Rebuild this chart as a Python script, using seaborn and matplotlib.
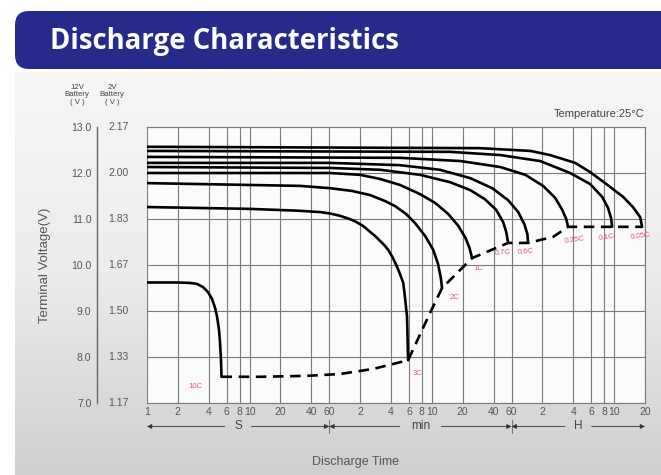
import numpy as np
import pandas as pd
import seaborn as sns
import matplotlib.pyplot as plt
from matplotlib.patches import FancyBboxPatch
from matplotlib.colors import LinearSegmentedColormap
import matplotlib.transforms as mtransforms

# discharge curves: time (s) and terminal voltage of the 12V battery
rates = ["10C", "3C", "2C", "1C", "0.7C", "0.6C", "0.25C", "0.1C", "0.05C"]

t_10c = [1, 2, 2.63, 3.07, 3.52, 3.94, 4.31, 4.61, 4.83, 5.04, 5.16, 5.27, 5.33]
v_10c = [9.62, 9.62, 9.61, 9.59, 9.52, 9.41, 9.26, 9.07, 8.87, 8.59, 8.30, 7.93, 7.57]
t_3c = [1, 10, 30, 49, 61, 76, 92, 107, 128, 150, 170, 188, 207, 225, 248, 270, 294,
        316, 330, 344, 352]
v_3c = [11.26, 11.22, 11.18, 11.15, 11.12, 11.07, 11.01, 10.95, 10.85, 10.72, 10.62,
        10.52, 10.43, 10.33, 10.17, 10.0, 9.8, 9.61, 9.25, 8.87, 7.93]
t_2c = [1, 10, 31, 61, 100, 150, 210, 263, 336, 412, 517, 619, 690, 734, 755]
v_2c = [11.78, 11.74, 11.72, 11.67, 11.61, 11.52, 11.39, 11.28, 11.11, 10.91, 10.63,
        10.33, 10.02, 9.72, 9.50]
t_1c = [1, 61, 120, 188, 294, 461, 646, 866, 1088, 1277, 1398, 1482]
v_1c = [12.0, 12.0, 11.96, 11.87, 11.74, 11.54, 11.35, 11.11, 10.85, 10.59, 10.37, 10.15]
t_07c = [1, 61, 188, 461, 904, 1416, 1977, 2543, 2980, 3190, 3326]
v_07c = [12.13, 12.11, 12.07, 11.96, 11.80, 11.63, 11.43, 11.20, 10.93, 10.72, 10.48]
t_06c = [1, 61, 294, 719, 1416, 2328, 3326, 4180, 4790, 5130, 5210]
v_06c = [12.22, 12.22, 12.17, 12.07, 11.89, 11.67, 11.41, 11.15, 10.89, 10.67, 10.48]
t_025c = [1, 294, 1140, 2788, 4897, 7300, 9570, 11210, 12270, 12800]
v_025c = [12.35, 12.33, 12.26, 12.13, 11.96, 11.72, 11.46, 11.20, 11.0, 10.83]
t_01c = [1, 904, 2788, 6826, 13380, 20990, 27540, 31400, 33600, 34400]
v_01c = [12.48, 12.46, 12.39, 12.26, 12.0, 11.76, 11.48, 11.24, 11.02, 10.83]
t_005c = [1, 1774, 5490, 8547, 15000, 20990, 29400, 44100, 54900, 64600, 67500]
v_005c = [12.57, 12.54, 12.48, 12.39, 12.22, 12.02, 11.78, 11.48, 11.26, 11.04, 10.83]

# end-of-discharge line (dashed)
t_cut = [5.33, 12.7, 36, 76, 160, 352, 577, 755, 1482, 3326, 5210, 9130, 12800, 34400, 67500]
v_cut = [7.57, 7.57, 7.59, 7.63, 7.74, 7.93, 8.96, 9.50, 10.15, 10.48, 10.48, 10.61, 10.83, 10.83, 10.83]

# rate labels along the dashed line
label_t = [2.94, 432, 1007, 1690, 2930, 4900, 15000, 30500, 65000]
label_v = [7.35, 7.65, 9.30, 9.93, 10.26, 10.28, 10.54, 10.59, 10.63]
label_rot = [0, 0, 0, 0, 5, 5, 8, 8, 8]

# axes ticks
v12_ticks = [13.0, 12.0, 11.0, 10.0, 9.0, 8.0, 7.0]
v12_labels = ["13.0", "12.0", "11.0", "10.0", "9.0", "8.0", "7.0"]
v2_labels = ["2.17", "2.00", "1.83", "1.67", "1.50", "1.33", "1.17"]
time_ticks = [1, 2, 4, 6, 8, 10, 20, 40, 60, 120, 240, 360, 480, 600, 1200, 2400,
              3600, 7200, 14400, 21600, 28800, 36000, 72000]
time_labels = ["1", "2", "4", "6", "8", "10", "20", "40", "60", "2", "4", "6", "8",
               "10", "20", "40", "60", "2", "4", "6", "8", "10", "20"]
unit_names = ["S", "min", "H"]
unit_edges = [1, 60, 3600, 72000]

curves = [(t_10c, v_10c), (t_3c, v_3c), (t_2c, v_2c), (t_1c, v_1c), (t_07c, v_07c),
          (t_06c, v_06c), (t_025c, v_025c), (t_01c, v_01c), (t_005c, v_005c)]
df = pd.concat(
    [pd.DataFrame({"time": t, "voltage": v, "rate": r}) for r, (t, v) in zip(rates, curves)],
    ignore_index=True,
)
df_cut = pd.DataFrame({"time": t_cut, "voltage": v_cut})

sns.set_theme(style="white")
plt.rcParams["font.family"] = ["Liberation Sans", "DejaVu Sans"]

W, H = 661, 475
fig = plt.figure(figsize=(W / 100, H / 100), dpi=100)
fig.patch.set_facecolor("white")

# background canvas in pixel units
bg = fig.add_axes([0, 0, 1, 1], zorder=-5)
bg.set_xlim(0, W)
bg.set_ylim(H, 0)
bg.axis("off")
grad_cmap = LinearSegmentedColormap.from_list("bg", ["#f6f6f6", "#ececec", "#cfcfcf"])
grad = np.linspace(0, 1, 200).reshape(-1, 1)
bg.imshow(grad, cmap=grad_cmap, extent=[15, W, H, 72], aspect="auto")
bg.add_patch(FancyBboxPatch((15, 11), 720, 58, boxstyle="round,pad=0,rounding_size=14",
                            facecolor="#262a8a", edgecolor="none"))
bg.text(50, 41, "Discharge Characteristics", color="white", fontsize=19.8,
        fontweight="bold", family="Open Sans", va="center", ha="left")
bg.text(77, 95, "12V\nBattery\n( V )", fontsize=5.6, color="#444", ha="center",
        va="center", linespacing=1.05)
bg.text(112, 95, "2V\nBattery\n( V )", fontsize=5.6, color="#444", ha="center",
        va="center", linespacing=1.05)
bg.text(45, 265, "Terminal Voltage(V)", rotation=90, fontsize=9.5, color="#555",
        ha="center", va="center")
bg.text(355, 462, "Discharge Time", fontsize=9, color="#555", ha="center", va="center")

# main chart
ax = fig.add_axes([147 / W, 72 / H, 498 / W, 276 / H])
ax.set_facecolor("#fbfbfb")
sns.lineplot(data=df, x="time", y="voltage", units="rate", estimator=None,
             color="black", lw=1.9, ax=ax, sort=False)
sns.lineplot(data=df_cut, x="time", y="voltage", color="black", lw=1.9,
             ax=ax, sort=False, linestyle=(0, (4, 2.5)))

ax.set_xscale("log")
ax.set_xlim(1, 72000)
ax.set_ylim(7, 13)
ax.set_xticks(time_ticks)
ax.set_xticklabels(time_labels)
ax.xaxis.set_minor_locator(plt.NullLocator())
ax.set_yticks(v12_ticks)
ax.set_yticklabels(v12_labels)
ax.set_xlabel("")
ax.set_ylabel("")
ax.grid(True, color="#7a7a7a", lw=0.8)
ax.tick_params(axis="x", length=0, pad=3, labelsize=7.5, labelcolor="#555")
ax.tick_params(axis="y", direction="in", length=5, width=1, color="#666",
               pad=4, labelsize=7.5, labelcolor="#555")

for side in ["top", "right", "bottom"]:
    ax.spines[side].set_color("#7a7a7a")
    ax.spines[side].set_linewidth(0.8)
ax.spines["left"].set_position(("outward", 36))
ax.spines["left"].set_color("#666")
ax.spines["left"].set_linewidth(1.0)

# 2V battery scale next to the 12V one
yblend = mtransforms.blended_transform_factory(ax.transAxes, ax.transData)
for v, lab in zip(v12_ticks, v2_labels):
    ax.text(-0.078, v, lab, transform=yblend, fontsize=7.5, color="#555",
            ha="left", va="center")

# rate labels
for tt, vv, lab, rot in zip(label_t, label_v, rates, label_rot):
    ax.text(tt, vv, lab, fontsize=5.6, color="#e05a72", ha="center", va="center",
            rotation=rot, clip_on=False)

ax.text(1.0, 1.028, "Temperature:25\u00b0C", transform=ax.transAxes, fontsize=8,
        color="#444", ha="right", va="bottom")

# unit bands under the time axis
xblend = mtransforms.blended_transform_factory(ax.transData, ax.transAxes)
y_unit = -0.085
for name, a, b in zip(unit_names, unit_edges[:-1], unit_edges[1:]):
    mid = np.sqrt(a * b)
    gap = 1.35 if name != "min" else 1.6
    ax.annotate("", xy=(a, y_unit), xytext=(mid / gap, y_unit), xycoords=xblend,
                textcoords=xblend,
                arrowprops=dict(arrowstyle="-|>", color="#333", lw=0.6,
                                mutation_scale=7, shrinkA=0, shrinkB=0))
    ax.annotate("", xy=(b, y_unit), xytext=(mid * gap, y_unit), xycoords=xblend,
                textcoords=xblend,
                arrowprops=dict(arrowstyle="-|>", color="#333", lw=0.6,
                                mutation_scale=7, shrinkA=0, shrinkB=0))
    ax.text(mid, y_unit, name, transform=xblend, fontsize=8.5, color="#444",
            ha="center", va="center")
for edge in unit_edges[1:-1]:
    ax.plot([edge, edge], [-0.06, -0.11], transform=xblend, color="#777",
            lw=0.8, clip_on=False)

fig.savefig("out.png", dpi=100)
